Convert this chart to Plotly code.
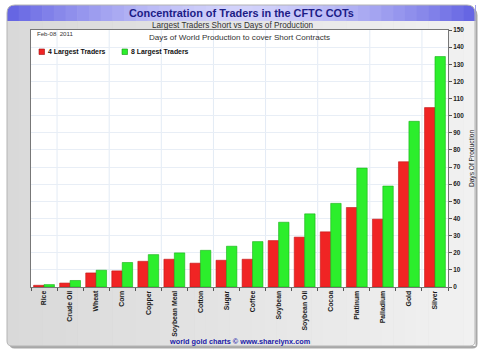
import plotly.graph_objects as go

categories = ["Rice", "Crude Oil", "Wheat", "Corn", "Copper", "Soybean Meal", "Cotton",
              "Sugar", "Coffee", "Soybean", "Soybean Oil", "Cocoa", "Platinum",
              "Palladium", "Gold", "Silver"]
largest4 = [1.0, 2.3, 8.2, 9.4, 15.0, 16.2, 13.9, 15.6, 16.2, 27.1, 29.1, 32.2, 46.4, 39.6, 73.1, 104.7]
largest8 = [1.4, 3.8, 9.8, 14.3, 18.9, 19.9, 21.4, 23.8, 26.5, 37.8, 42.7, 48.8, 69.4, 58.9, 96.7, 134.5]
y_ticks = list(range(0, 151, 10))
series_names = ["4 Largest Traders", "8 Largest Traders"]

W, H = 483, 357
L, R, T, B = 31, 35, 30, 70
PW, PH = W - L - R, H - T - B
FONT = "Liberation Sans, Arial, sans-serif"
RED, GREEN = "#f02424", "#2cee2c"


def px(x):
    return (x - L) / PW


def py(y):
    return (H - B - y) / PH


def lerp_color(c1, c2, t):
    a = [int(c1[i:i + 2], 16) for i in (1, 3, 5)]
    b = [int(c2[i:i + 2], 16) for i in (1, 3, 5)]
    return "#" + "".join(f"{round(a[k] + (b[k] - a[k]) * t):02x}" for k in range(3))


def rrect(x0, y0, x1, y1, rt, rb):
    pts = [
        f"M {px(x0 + rt)} {py(y0)}",
        f"L {px(x1 - rt)} {py(y0)}",
        f"Q {px(x1)} {py(y0)} {px(x1)} {py(y0 + rt)}",
        f"L {px(x1)} {py(y1 - rb)}",
        f"Q {px(x1)} {py(y1)} {px(x1 - rb)} {py(y1)}",
        f"L {px(x0 + rb)} {py(y1)}",
        f"Q {px(x0)} {py(y1)} {px(x0)} {py(y1 - rb)}",
        f"L {px(x0)} {py(y0 + rt)}",
        f"Q {px(x0)} {py(y0)} {px(x0 + rt)} {py(y0)}",
        "Z",
    ]
    return " ".join(pts)


def corner_cut(cx, cy, dx, dy, r):
    return (f"M {px(cx)} {py(cy)} L {px(cx + dx * r)} {py(cy)} "
            f"Q {px(cx)} {py(cy)} {px(cx)} {py(cy + dy * r)} Z")


fig = go.Figure()
fig.add_trace(go.Bar(name=series_names[0], x=categories, y=largest4,
                     marker=dict(color=RED, line=dict(color="#c01818", width=0.6))))
fig.add_trace(go.Bar(name=series_names[1], x=categories, y=largest8,
                     marker=dict(color=GREEN, line=dict(color="#18b018", width=0.6))))

FX0, FX1, FY0, FY1 = 7, 475, 5, 346
shapes = [dict(type="path", xref="paper", yref="paper", layer="below",
               path=rrect(FX0 + 2.5, FY0 + 2.5, FX1 + 2.5, FY1 + 2.5, 8, 5),
               fillcolor="#a8a8a8", line=dict(width=0))]
N = 40
sw = (FX1 - FX0) / N
for i in range(N):
    shapes.append(dict(type="rect", xref="paper", yref="paper", layer="below",
                       x0=px(FX0 + i * sw), x1=px(FX0 + (i + 1) * sw + 0.6),
                       y0=py(FY1), y1=py(FY0),
                       fillcolor=lerp_color("#d9d9d9", "#f1f1f1", i / (N - 1)), line=dict(width=0)))
cx = (FX0 + FX1) / 2
for i in range(N):
    xm = FX0 + (i + 0.5) * sw
    t = min(1.0, abs(xm - cx) / ((FX1 - FX0) / 2)) ** 1.6
    shapes.append(dict(type="rect", xref="paper", yref="paper", layer="below",
                       x0=px(FX0 + i * sw), x1=px(FX0 + (i + 1) * sw + 0.6),
                       y0=py(21), y1=py(FY0),
                       fillcolor=lerp_color("#d2d2fb", "#6262e2", t), line=dict(width=0)))
for (ccx, ccy, dx, dy, r) in [(FX0, FY0, 1, 1, 8), (FX1, FY0, -1, 1, 8),
                              (FX0, FY1, 1, -1, 5), (FX1, FY1, -1, -1, 5)]:
    shapes.append(dict(type="path", xref="paper", yref="paper", layer="below",
                       path=corner_cut(ccx, ccy, dx, dy, r),
                       fillcolor="white", line=dict(width=0)))
shapes.append(dict(type="path", xref="paper", yref="paper", layer="below",
                   path=rrect(FX0, FY0, FX1, FY1, 8, 5),
                   fillcolor="rgba(0,0,0,0)", line=dict(color="#b4b4b4", width=1)))
shapes.append(dict(type="rect", xref="paper", yref="paper", layer="below",
                   x0=0, x1=1, y0=0, y1=1, fillcolor="white", line=dict(width=0)))
for k in range(0, len(categories) - 1, 2):
    shapes.append(dict(type="line", xref="x", yref="paper", layer="below",
                       x0=k + 0.5, x1=k + 0.5, y0=0, y1=1,
                       line=dict(color="#e3ebf5", width=1)))
for (x0, col, edge) in [(39, RED, "#a01010"), (122, GREEN, "#109010")]:
    shapes.append(dict(type="rect", xref="paper", yref="paper",
                       x0=px(x0), x1=px(x0 + 5.5), y0=py(54.5), y1=py(49),
                       fillcolor=col, line=dict(color=edge, width=0.6)))

annotations = [
    dict(text="<b>Concentration of Traders in the CFTC COTs</b>", x=px(241), y=py(13),
         xref="paper", yref="paper", showarrow=False, xanchor="center", yanchor="middle",
         font=dict(family=FONT, size=10.9, color="#1c1c86")),
    dict(text="Largest Traders Short vs Days of Production", x=px(233), y=py(25.5),
         xref="paper", yref="paper", showarrow=False, xanchor="center", yanchor="middle",
         font=dict(family=FONT, size=8.2, color="#333333")),
    dict(text="Days of World Production to cover Short Contracts", x=px(239), y=py(37),
         xref="paper", yref="paper", showarrow=False, xanchor="center", yanchor="middle",
         font=dict(family=FONT, size=8.1, color="#333333")),
    dict(text="Feb-08  2011", x=px(34.5), y=py(34),
         xref="paper", yref="paper", showarrow=False, xanchor="left", yanchor="middle",
         font=dict(family=FONT, size=6.1, color="#333333")),
    dict(text="<b>" + series_names[0] + "</b>", x=px(46), y=py(51.8),
         xref="paper", yref="paper", showarrow=False, xanchor="left", yanchor="middle",
         font=dict(family=FONT, size=6.9, color="#111111")),
    dict(text="<b>" + series_names[1] + "</b>", x=px(129), y=py(51.8),
         xref="paper", yref="paper", showarrow=False, xanchor="left", yanchor="middle",
         font=dict(family=FONT, size=6.9, color="#111111")),
    dict(text="<b>world gold charts © www.sharelynx.com</b>", x=px(240), y=py(341),
         xref="paper", yref="paper", showarrow=False, xanchor="center", yanchor="middle",
         font=dict(family=FONT, size=7.3, color="#1a1aa8")),
]

fig.update_layout(
    width=W, height=H,
    margin=dict(l=L, r=R, t=T, b=B, autoexpand=False),
    paper_bgcolor="white", plot_bgcolor="rgba(0,0,0,0)",
    barmode="group", bargap=0.2, bargroupgap=0,
    font=dict(family=FONT, size=8, color="#222222"),
    showlegend=False,
    xaxis=dict(type="category", tickangle=-90, tickson="boundaries", ticks="outside",
               ticklen=3, tickcolor="#555", showgrid=False,
               showline=True, linecolor="#777", linewidth=1, mirror=True, automargin=False,
               tickfont=dict(family=FONT, size=6.9, color="#1a1a1a", weight="bold")),
    yaxis=dict(side="right", range=[0, 150], tickvals=y_ticks, ticks="outside",
               ticklen=3, tickcolor="#555", showgrid=True, gridcolor="#e8eef6",
               showline=True, linecolor="#777", linewidth=1, mirror=True, automargin=False,
               tickfont=dict(family=FONT, size=6.4, color="#222", weight="bold"),
               title=dict(text="Days Of Production", font=dict(family=FONT, size=6.6, color="#222"),
                          standoff=5)),
    shapes=shapes, annotations=annotations,
)

fig.write_html("out.html", config={"displayModeBar": False},
               post_script="document.body.style.margin='0';document.body.style.overflow='hidden';")
